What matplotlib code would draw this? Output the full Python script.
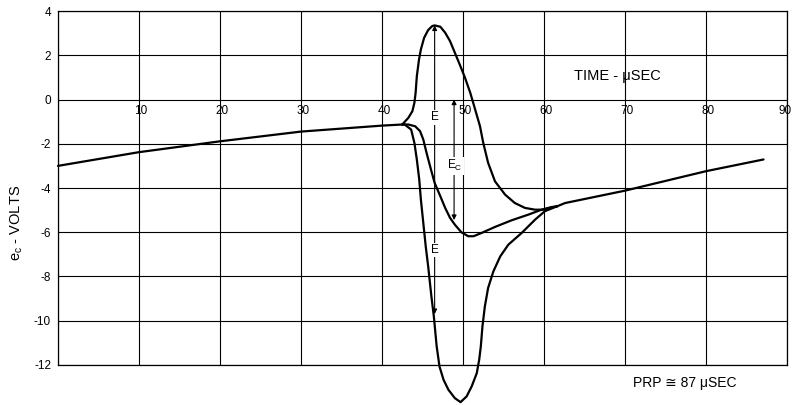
import matplotlib
matplotlib.use("Agg")
import matplotlib.pyplot as plt

plt.rcParams["font.family"] = ["Liberation Sans", "DejaVu Sans"]
plt.rcParams["axes.unicode_minus"] = False
plt.rcParams["mathtext.fontset"] = "custom"
plt.rcParams["mathtext.rm"] = "Liberation Sans"

# --- grid / scale ---
x_ticks = [10, 20, 30, 40, 50, 60, 70, 80, 90]
y_ticks = [4, 2, 0, -2, -4, -6, -8, -10, -12]

# --- grid voltage, common part before the pulse ---
base_x = [0, 10, 20, 30, 40, 42.5]
base_y = [-3.0, -2.38, -1.89, -1.45, -1.18, -1.13]

# positive overshoot
a_x = [42.5, 43.25, 43.75, 44.0, 44.15, 44.3, 44.57, 44.8, 45.2, 45.7, 46.2, 46.5,
       47.2, 47.8, 48.4, 49.0, 49.6, 50.25, 50.9, 51.5, 52.1, 52.5, 53.1, 53.95,
       55.2, 56.4, 57.65, 58.9, 59.9, 60.95, 61.6]
a_y = [-1.13, -0.83, -0.53, -0.15, 0.3, 1.05, 1.81, 2.26, 2.79, 3.14, 3.32, 3.35,
       3.29, 3.02, 2.64, 2.11, 1.58, 0.98, 0.3, -0.45, -1.21, -1.96, -2.86, -3.7,
       -4.3, -4.68, -4.9, -4.98, -4.98, -4.88, -4.83]

# E_c drop
b_x = [42.5, 43.25, 44.1, 44.7, 45.1, 45.5, 46.05, 46.5, 47.2, 47.8, 48.4, 49.0,
       49.8, 50.65, 51.3, 52.3, 53.95, 56.0, 58.1, 59.7, 60.95, 61.6]
b_y = [-1.13, -1.13, -1.21, -1.43, -1.81, -2.41, -3.17, -3.77, -4.37, -4.9, -5.35,
       -5.66, -6.0, -6.18, -6.18, -6.03, -5.76, -5.46, -5.2, -4.98, -4.86, -4.83]

# deep negative swing
c_x = [42.5, 42.8, 43.6, 44.0, 44.3, 44.6, 44.8, 45.1, 45.4, 45.7, 46.1, 46.4,
       46.75, 47.1, 47.6, 48.2, 49.0, 49.7, 50.45, 51.07, 51.7, 52.0, 52.2, 52.4,
       52.7, 53.1, 53.75, 54.6, 55.6, 57.25, 58.9, 60.1, 61.6]
c_y = [-1.13, -1.13, -1.36, -1.96, -2.71, -3.62, -4.52, -5.58, -6.64, -7.54, -8.9,
       -9.8, -11.16, -12.07, -12.67, -13.12, -13.5, -13.68, -13.42, -12.97, -12.37,
       -11.76, -11.16, -10.26, -9.35, -8.52, -7.77, -7.09, -6.56, -6.03, -5.43,
       -5.05, -4.83]

# recovery after the pulse
tail_x = [61.6, 62.6, 70, 80, 87.1]
tail_y = [-4.83, -4.68, -4.12, -3.24, -2.71]

# amplitude markers
e_x, e_top, e_bottom = 46.5, 3.35, -9.7
e_label_y = [-0.8, -6.8]
ec_x, ec_top, ec_bottom = 48.9, 0.0, -5.45
ec_label_y = -3.0

fig = plt.figure(figsize=(7.92, 4.05), dpi=100)
ax = fig.add_axes([0.0732, 0.0988, 0.9205, 0.874])
ax.set_xlim(0, 90)
ax.set_ylim(-12, 4)

ax.set_xticks([0] + x_ticks)
ax.set_yticks(y_ticks)
ax.set_yticklabels([str(v) for v in y_ticks], fontsize=8.5)
ax.tick_params(axis="both", length=0, pad=5)
ax.tick_params(axis="x", labelbottom=False)
ax.grid(True, color="black", linewidth=0.8)
ax.set_axisbelow(True)
for sp in ax.spines.values():
    sp.set_linewidth(0.9)

# time labels ride just under the zero line
for xv in x_ticks:
    last = xv == x_ticks[-1]
    ax.annotate(str(xv), xy=(xv, 0), xytext=(3.5 if last else 1.5, -4),
                textcoords="offset points", ha="right" if last else "center",
                va="top", fontsize=8.5)

kw = dict(color="black", linewidth=1.6, solid_joinstyle="round",
          solid_capstyle="round", clip_on=False)
ax.plot(base_x, base_y, **kw)
ax.plot(a_x, a_y, **kw)
ax.plot(b_x, b_y, **kw)
ax.plot(c_x, c_y, **kw)
ax.plot(tail_x, tail_y, **kw)

arrow = dict(arrowstyle="<|-|>", color="black", lw=0.8, mutation_scale=7,
             shrinkA=0, shrinkB=0)
ax.annotate("", xy=(e_x, e_top), xytext=(e_x, e_bottom), arrowprops=arrow)
ax.annotate("", xy=(ec_x, ec_top), xytext=(ec_x, ec_bottom), arrowprops=arrow)

box = dict(facecolor="white", edgecolor="none", pad=1.0)
for yl in e_label_y:
    ax.text(e_x, yl, "E", ha="center", va="center", fontsize=8.5, bbox=box)
ax.text(ec_x + 0.1, ec_label_y, r"E$_\mathrm{C}$", ha="center", va="center",
        fontsize=8.5, bbox=box)

ax.text(69.1, 1.05, "TIME - \u03bcSEC", ha="center", va="center", fontsize=10.5)
ax.text(77.4, -12.8, "PRP \u2245 87 \u03bcSEC", ha="center", va="center",
        fontsize=10, clip_on=False)

ax.set_ylabel(r"e$_\mathrm{c}$ - VOLTS", fontsize=10.5)
ax.yaxis.set_label_coords(-0.045, 0.40)

fig.savefig("out.png", dpi=100)
